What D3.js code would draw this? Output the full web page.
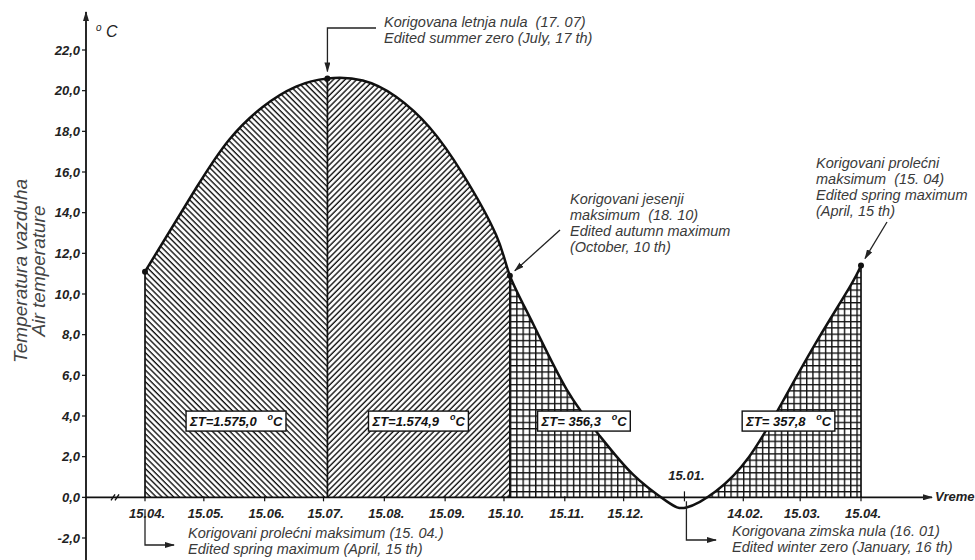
<!DOCTYPE html>
<html>
<head>
<meta charset="utf-8">
<script src="https://cdn.jsdelivr.net/npm/d3@7"></script>
<style>
  body { margin: 0; background: #fff; }
  svg { display: block; font-family: "Liberation Sans", Arial, sans-serif; }
  .tick-label { font-weight: bold; font-style: italic; font-size: 13px; fill: #222; }
  .note { font-style: italic; font-size: 14.5px; fill: #3a3a3a; }
  .sum { font-weight: bold; font-style: italic; font-size: 13px; fill: #111; }
</style>
</head>
<body>
<svg width="975" height="560"></svg>
<script>
// --- Data ---
const tempDates = ['2001-04-15', '2001-05-11', '2001-05-28', '2001-06-14', '2001-07-01', '2001-07-17',
  '2001-08-04', '2001-08-21', '2001-09-07', '2001-09-24', '2001-10-11', '2001-10-18', '2001-10-30',
  '2001-11-16', '2001-12-03', '2001-12-20', '2002-01-06', '2002-01-16', '2002-01-31', '2002-02-17',
  '2002-03-06', '2002-03-23', '2002-04-09', '2002-04-15'];
const tempValues = [11.1, 15.2, 17.6, 19.2, 20.2, 20.6,
  20.5, 19.7, 18.2, 15.9, 12.9, 10.9, 8.5,
  5.3, 3.0, 1.1, -0.2, -0.5, 0.3, 2.0,
  4.7, 7.6, 10.3, 11.4];

const xTickDates = ['2001-04-15', '2001-05-15', '2001-06-15', '2001-07-15', '2001-08-15', '2001-09-15',
  '2001-10-15', '2001-11-15', '2001-12-15', '2002-01-15', '2002-02-14', '2002-03-15', '2002-04-15'];
const xTickLabels = ['15.04.', '15.05.', '15.06.', '15.07.', '15.08.', '15.09.',
  '15.10.', '15.11.', '15.12.', '15.01.', '14.02.', '15.03.', '15.04.'];
const yTicks = [-2, 0, 2, 4, 6, 8, 10, 12, 14, 16, 18, 20, 22];

// key dates: spring max, summer zero, autumn max, winter zero, spring max
const keyDates = ['2001-04-15', '2001-07-17', '2001-10-18', '2002-01-16', '2002-04-15'];
const sumLabels = ['ΣT=1.575,0', 'ΣT=1.574,9', 'ΣT= 356,3', 'ΣT= 357,8'];

const parse = d3.timeParse('%Y-%m-%d');
const data = tempDates.map((d, i) => ({ date: parse(d), value: tempValues[i] }));
const keys = keyDates.map(parse);
const valueAt = dt => data.find(d => +d.date === +dt).value;

const svg = d3.select('svg');

// --- Scales ---
const x = d3.scaleTime().domain([keys[0], keys[4]]).range([145, 861]);
const y = d3.scaleLinear().domain([-2, 22]).range([538, 50]);
const y0 = y(0);
const axisX = 86;

// --- Patterns ---
const defs = svg.append('defs');
function hatch(id, angle) {
  const p = defs.append('pattern')
    .attr('id', id)
    .attr('patternUnits', 'userSpaceOnUse')
    .attr('width', 4.1).attr('height', 10)
    .attr('patternTransform', `rotate(${angle})`);
  p.append('line')
    .attr('x1', 1).attr('x2', 1).attr('y1', -1).attr('y2', 11)
    .attr('stroke', '#111').attr('stroke-width', 1.4);
}
hatch('hatch-back', -45);
hatch('hatch-fwd', 45);
const grid = defs.append('pattern')
  .attr('id', 'grid')
  .attr('patternUnits', 'userSpaceOnUse')
  .attr('width', 6.3).attr('height', 6.3)
  .attr('x', x(keys[2])).attr('y', y0);
grid.append('path')
  .attr('d', 'M0.7,0V6.3M0,0.7H6.3')
  .attr('stroke', '#111').attr('stroke-width', 1.4).attr('fill', 'none');

const marker = defs.append('marker')
  .attr('id', 'arrow')
  .attr('markerUnits', 'userSpaceOnUse')
  .attr('viewBox', '0 0 10 6')
  .attr('refX', 9).attr('refY', 3)
  .attr('markerWidth', 10).attr('markerHeight', 6)
  .attr('orient', 'auto');
marker.append('path').attr('d', 'M0,0L10,3L0,6Z').attr('fill', '#222');

// --- Areas (clipped above zero) ---
const curve = d3.curveNatural;
const area = d3.area()
  .x(d => x(d.date))
  .y0(y0)
  .y1(d => y(d.value))
  .curve(curve);
const line = d3.line()
  .x(d => x(d.date))
  .y(d => y(d.value))
  .curve(curve);

const sections = [
  { from: keys[0], to: keys[1], fill: 'url(#hatch-back)' },
  { from: keys[1], to: keys[2], fill: 'url(#hatch-fwd)' },
  { from: keys[2], to: keys[4], fill: 'url(#grid)' }
];
sections.forEach((s, i) => {
  defs.append('clipPath').attr('id', 'clip' + i)
    .append('rect')
    .attr('x', x(s.from)).attr('y', 0)
    .attr('width', x(s.to) - x(s.from)).attr('height', y0);
  svg.append('path')
    .datum(data)
    .attr('d', area)
    .attr('fill', s.fill)
    .attr('clip-path', `url(#clip${i})`);
});

// --- Vertical dividers ---
[keys[0], keys[1], keys[2], keys[4]].forEach(k => {
  svg.append('line')
    .attr('x1', x(k)).attr('x2', x(k))
    .attr('y1', y0).attr('y2', y(valueAt(k)))
    .attr('stroke', '#111').attr('stroke-width', 1.7);
});

// --- Curve ---
svg.append('path')
  .datum(data)
  .attr('d', line)
  .attr('fill', 'none')
  .attr('stroke', '#111')
  .attr('stroke-width', 2.5);

[keys[0], keys[1], keys[2], keys[4]].forEach(k => {
  svg.append('circle')
    .attr('cx', x(k)).attr('cy', y(valueAt(k)))
    .attr('r', 3).attr('fill', '#111');
});

// --- Y axis ---
svg.append('line')
  .attr('x1', axisX).attr('x2', axisX)
  .attr('y1', 560).attr('y2', 12)
  .attr('stroke', '#111').attr('stroke-width', 1.8)
  .attr('marker-end', 'url(#arrow)');
yTicks.forEach(t => {
  svg.append('line')
    .attr('x1', axisX - 4).attr('x2', axisX)
    .attr('y1', y(t)).attr('y2', y(t))
    .attr('stroke', '#111').attr('stroke-width', 1.2);
  svg.append('text')
    .attr('class', 'tick-label')
    .attr('x', axisX - 6).attr('y', y(t) + 4.5)
    .attr('text-anchor', 'end')
    .text(t.toFixed(1).replace('.', ','));
});
const unit = svg.append('text')
  .attr('x', 96).attr('y', 37)
  .attr('font-style', 'italic').attr('font-size', 16).attr('fill', '#222');
unit.append('tspan').attr('font-size', 10).attr('dy', -6).text('o');
unit.append('tspan').attr('dy', 6).text(' C');

const yTitle = svg.append('g').attr('transform', 'translate(0,271) rotate(-90)');
yTitle.append('text')
  .attr('x', 0).attr('y', 27)
  .attr('text-anchor', 'middle')
  .attr('font-style', 'italic').attr('font-size', 19).attr('fill', '#444')
  .text('Temperatura vazduha');
yTitle.append('text')
  .attr('x', 0).attr('y', 45)
  .attr('text-anchor', 'middle')
  .attr('font-style', 'italic').attr('font-size', 19).attr('fill', '#444')
  .text('Air temperature');

// --- X axis ---
svg.append('line')
  .attr('x1', axisX).attr('x2', 932)
  .attr('y1', y0).attr('y2', y0)
  .attr('stroke', '#111').attr('stroke-width', 1.8)
  .attr('marker-end', 'url(#arrow)');
svg.append('text')
  .attr('class', 'tick-label')
  .attr('font-size', 12)
  .attr('x', 935).attr('y', y0 + 4)
  .text('Vreme');
// axis break
[0, 4].forEach(o => {
  svg.append('line')
    .attr('x1', 111 + o).attr('x2', 115 + o)
    .attr('y1', y0 + 3).attr('y2', y0 - 3)
    .attr('stroke', '#111').attr('stroke-width', 1.4);
});
xTickDates.forEach((d, i) => {
  const xp = x(parse(d));
  svg.append('line')
    .attr('x1', xp).attr('x2', xp)
    .attr('y1', y0 - (i === 9 ? 6 : 1)).attr('y2', y0 + 4)
    .attr('stroke', '#111').attr('stroke-width', 1.2);
  svg.append('text')
    .attr('class', 'tick-label')
    .attr('x', xp + 2)
    .attr('y', i === 9 ? y0 - 17 : y0 + 21)
    .attr('text-anchor', 'middle')
    .text(xTickLabels[i]);
});

// --- Sum boxes ---
const boxShift = [0, 0, -14, 15];
sumLabels.forEach((s, i) => {
  const cx = (x(keys[i]) + x(keys[i + 1])) / 2 + boxShift[i];
  const cy = y(3.75);
  const g = svg.append('g');
  const rect = g.append('rect').attr('fill', '#fff').attr('stroke', '#111').attr('stroke-width', 1.4);
  const t = g.append('text')
    .attr('class', 'sum')
    .attr('x', cx).attr('y', cy + 4.5)
    .attr('text-anchor', 'middle')
    .attr('xml:space', 'preserve');
  t.append('tspan').text(s + '   ');
  t.append('tspan').attr('font-size', 9).attr('dy', -6).text('o');
  t.append('tspan').attr('dy', 6).text('C');
  const b = t.node().getBBox();
  rect.attr('x', b.x - 3).attr('y', cy - 10)
    .attr('width', b.width + 6).attr('height', 20);
});

// --- Annotations ---
function note(x0, yTop, lines) {
  lines.forEach((l, i) => {
    svg.append('text')
      .attr('class', 'note')
      .attr('x', x0).attr('y', yTop + i * 16)
      .attr('xml:space', 'preserve')
      .text(l);
  });
}
function arrow(d) {
  svg.append('path')
    .attr('d', d)
    .attr('fill', 'none')
    .attr('stroke', '#222')
    .attr('stroke-width', 1.3)
    .attr('marker-end', 'url(#arrow)');
}

note(384, 27, ['Korigovana letnja nula  (17. 07)', 'Edited summer zero (July, 17 th)']);
arrow(`M376,28H${x(keys[1])}V${y(valueAt(keys[1])) - 7}`);

note(570, 204, ['Korigovani jesenji', 'maksimum  (18. 10)', 'Edited autumn maximum', '(October, 10 th)']);
arrow(`M560,230L${x(keys[2]) + 5},${y(valueAt(keys[2])) - 5}`);

note(816, 168, ['Korigovani prolećni', 'maksimum  (15. 04)', 'Edited spring maximum', '(April, 15 th)']);
arrow(`M887,222L${x(keys[4]) + 4},${y(valueAt(keys[4])) - 7}`);

note(188, 538, ['Korigovani prolećni maksimum (15. 04.)', 'Edited spring maximum (April, 15 th)']);
arrow(`M${x(keys[0])},${y0 + 12}V545H174`);

note(732, 536, ['Korigovana zimska nula (16. 01)', 'Edited winter zero (January, 16 th)']);
arrow(`M${x(keys[3])},${y0 + 4}V540H716`);
</script>
</body>
</html>
